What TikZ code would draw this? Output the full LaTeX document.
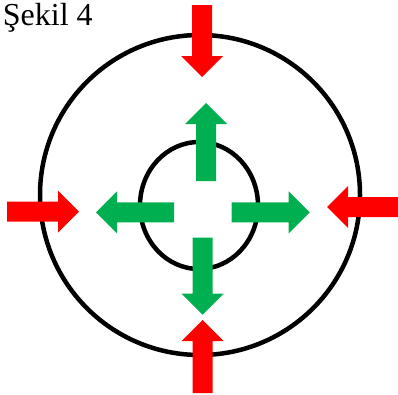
\documentclass[tikz,border=0pt]{standalone}
\usepackage{fontspec}
\setmainfont{Liberation Serif}
\usepackage{tikz}

\definecolor{okgreen}{HTML}{00B050}

\tikzset{
  ring/.style = {draw, line width=4.5pt},
  pics/blockarrow/.style = {code = {
    \path[pic actions] (0,-10) -- (#1-21,-10) -- (#1-21,-21) -- (#1,0)
      -- (#1-21,21) -- (#1-21,10) -- (0,10) -- cycle;
  }}
}

\begin{document}
\begin{tikzpicture}[x=1pt, y=-1pt]
    \useasboundingbox (0,0) rectangle (398,394);
    \node[anchor=base west, inner sep=0pt, font=\fontsize{32}{38}\selectfont] (title) at (2.7,25) {Şekil 4};
    % rings
    \draw[ring] (200,195) circle [radius=160];
    \draw[ring] (199,205.5) ellipse [x radius=59, y radius=63.5];
    % pressure from outside
    \pic[fill=red] at (7,211.7) {blockarrow=72};
    \pic[fill=red, rotate=180] at (398,207) {blockarrow=71};
    \pic[fill=red, rotate=-90] at (202,5) {blockarrow=72};
    \pic[fill=red, rotate=90] at (202.7,393) {blockarrow=73};
    % pressure from inside
    \pic[fill=okgreen, rotate=90] at (206,181) {blockarrow=78};
    \pic[fill=okgreen, rotate=-90] at (202.7,237.7) {blockarrow=77};
    \pic[fill=okgreen, rotate=180] at (174,212.3) {blockarrow=78};
    \pic[fill=okgreen] at (231.7,212.3) {blockarrow=78};
\end{tikzpicture}
\end{document}
